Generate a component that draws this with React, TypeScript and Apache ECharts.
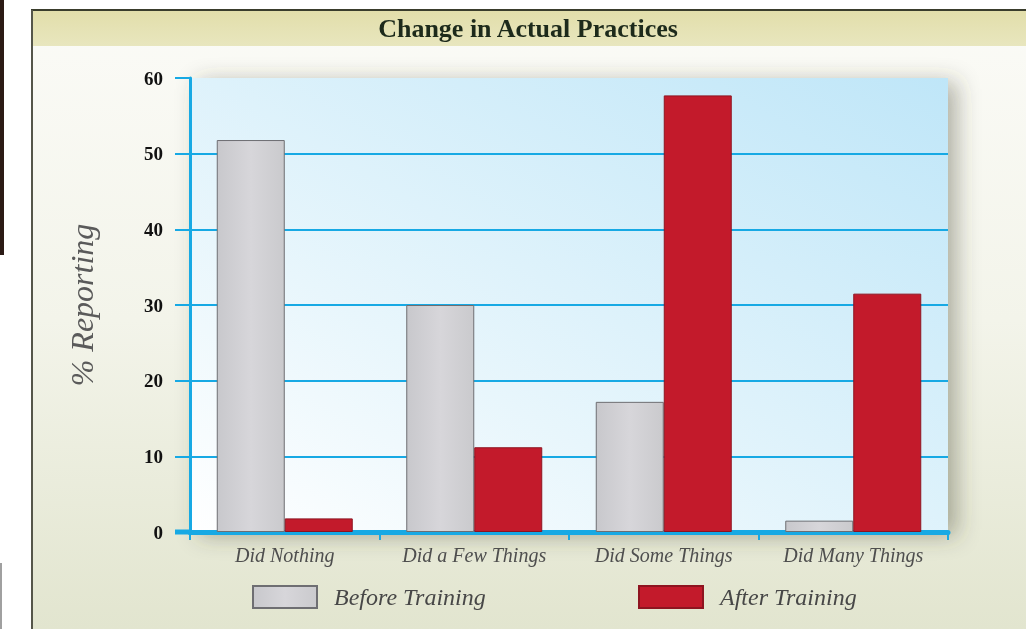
import React, { useEffect, useRef } from 'react';
import * as echarts from 'echarts';

const categories = ['Did Nothing', 'Did a Few Things', 'Did Some Things', 'Did Many Things'];
const beforeTraining = [51.8, 30, 17.2, 1.5];
const afterTraining = [1.8, 11.2, 57.7, 31.5];
const seriesNames = ['Before Training', 'After Training'];
const chartTitle = 'Change in Actual Practices';
const yAxisTitle = '% Reporting';
const yMin = 0;
const yMax = 60;
const yStep = 10;

export default function App() {
  const ref = useRef<HTMLDivElement>(null);
  useEffect(() => {
    const chart = echarts.init(ref.current as HTMLDivElement, null, { renderer: 'svg' });
    const serif = '"Liberation Serif", "DejaVu Serif", serif';
    const blue = '#17a9e4';
    const splitColors: string[] = [];
    for (let v = yMin; v <= yMax; v += yStep) splitColors.push(v === yMax ? 'rgba(0,0,0,0)' : blue);

    chart.setOption({
      animation: false,
      title: {
        text: chartTitle,
        left: 528,
        top: 15,
        padding: 0,
        textAlign: 'center',
        textStyle: { fontFamily: serif, fontWeight: 'bold', fontSize: 26, color: '#1d2a1b' },
      },
      graphic: [
        { type: 'rect', z: -10, shape: { x: 0, y: 0, width: 1026, height: 629 }, style: { fill: '#ffffff' } },
        {
          type: 'rect', z: -9, shape: { x: 31, y: 10, width: 995, height: 619 },
          style: {
            fill: new echarts.graphic.LinearGradient(0, 0, 0, 1, [
              { offset: 0, color: '#fbfbf7' },
              { offset: 0.5, color: '#f3f4ea' },
              { offset: 1, color: '#e2e5cf' },
            ]),
          },
        },
        {
          type: 'rect', z: -8, shape: { x: 31, y: 10, width: 995, height: 36 },
          style: {
            fill: new echarts.graphic.LinearGradient(0, 0, 0, 1, [
              { offset: 0, color: '#e2deaa' },
              { offset: 1, color: '#e8e6be' },
            ]),
          },
        },
        { type: 'line', z: -7, shape: { x1: 31, y1: 10, x2: 1026, y2: 10 }, style: { stroke: '#3a3d2c', lineWidth: 2 } },
        { type: 'line', z: -7, shape: { x1: 32, y1: 10, x2: 32, y2: 629 }, style: { stroke: '#55564a', lineWidth: 2 } },
        { type: 'rect', z: -7, shape: { x: 0, y: 0, width: 4, height: 255 }, style: { fill: '#2b1a15' } },
        { type: 'rect', z: -7, shape: { x: 0, y: 563, width: 2, height: 66 }, style: { fill: '#a0a0a0' } },
        { type: 'line', z: 5, shape: { x1: 175, y1: 532, x2: 192, y2: 532 }, style: { stroke: blue, lineWidth: 5 } },
      ],
      legend: [
        {
          data: [seriesNames[0]], left: 252, top: 585, padding: 0, icon: 'rect',
          itemWidth: 64, itemHeight: 22,
          textStyle: { fontFamily: serif, fontStyle: 'italic', fontSize: 24, color: '#474747', padding: [0, 0, 0, 12] },
        },
        {
          data: [seriesNames[1]], left: 638, top: 585, padding: 0, icon: 'rect',
          itemWidth: 64, itemHeight: 22,
          textStyle: { fontFamily: serif, fontStyle: 'italic', fontSize: 24, color: '#474747', padding: [0, 0, 0, 12] },
        },
      ],
      grid: {
        left: 190, right: 78, top: 78, bottom: 97,
        show: true, borderWidth: 0,
        backgroundColor: new echarts.graphic.LinearGradient(0, 1, 1, 0, [
          { offset: 0, color: '#ffffff' },
          { offset: 0.35, color: '#e8f6fc' },
          { offset: 1, color: '#bfe6f8' },
        ]),
        shadowColor: 'rgba(70,70,50,0.4)', shadowBlur: 22, shadowOffsetX: 9, shadowOffsetY: 4,
      },
      xAxis: {
        type: 'category',
        data: categories,
        axisLine: { show: true, lineStyle: { color: blue, width: 5 } },
        axisTick: { show: true, length: 8, lineStyle: { color: blue, width: 2 } },
        axisLabel: { margin: 13, fontFamily: serif, fontStyle: 'italic', fontSize: 20, color: '#4e4e4e' },
      },
      yAxis: {
        type: 'value', min: yMin, max: yMax, interval: yStep,
        name: yAxisTitle, nameLocation: 'middle', nameGap: 92,
        nameTextStyle: { fontFamily: serif, fontStyle: 'italic', fontSize: 32, color: '#5a5a5a' },
        axisLine: { show: true, lineStyle: { color: blue, width: 3 } },
        axisTick: { show: true, length: 15, lineStyle: { color: blue, width: 2 } },
        axisLabel: { margin: 27, fontFamily: serif, fontWeight: 'bold', fontSize: 19, color: '#111111' },
        splitLine: { show: true, lineStyle: { color: splitColors, width: 2 } },
      },
      series: [
        {
          type: 'bar', name: seriesNames[0], data: beforeTraining,
          barWidth: 68, barGap: '0%',
          itemStyle: {
            color: new echarts.graphic.LinearGradient(0, 0, 1, 0, [
              { offset: 0, color: '#c8c8cc' },
              { offset: 0.5, color: '#d7d6da' },
              { offset: 1, color: '#cacacd' },
            ]),
            borderColor: '#6e6e72', borderWidth: 1,
          },
        },
        {
          type: 'bar', name: seriesNames[1], data: afterTraining,
          barWidth: 68, barGap: '0%',
          itemStyle: { color: '#c31a2b', borderColor: '#8e1420', borderWidth: 1 },
        },
      ],
    });
    return () => chart.dispose();
  }, []);
  return <div ref={ref} style={{ position: 'fixed', left: 0, top: 0, width: 1026, height: 629 }} />;
}
